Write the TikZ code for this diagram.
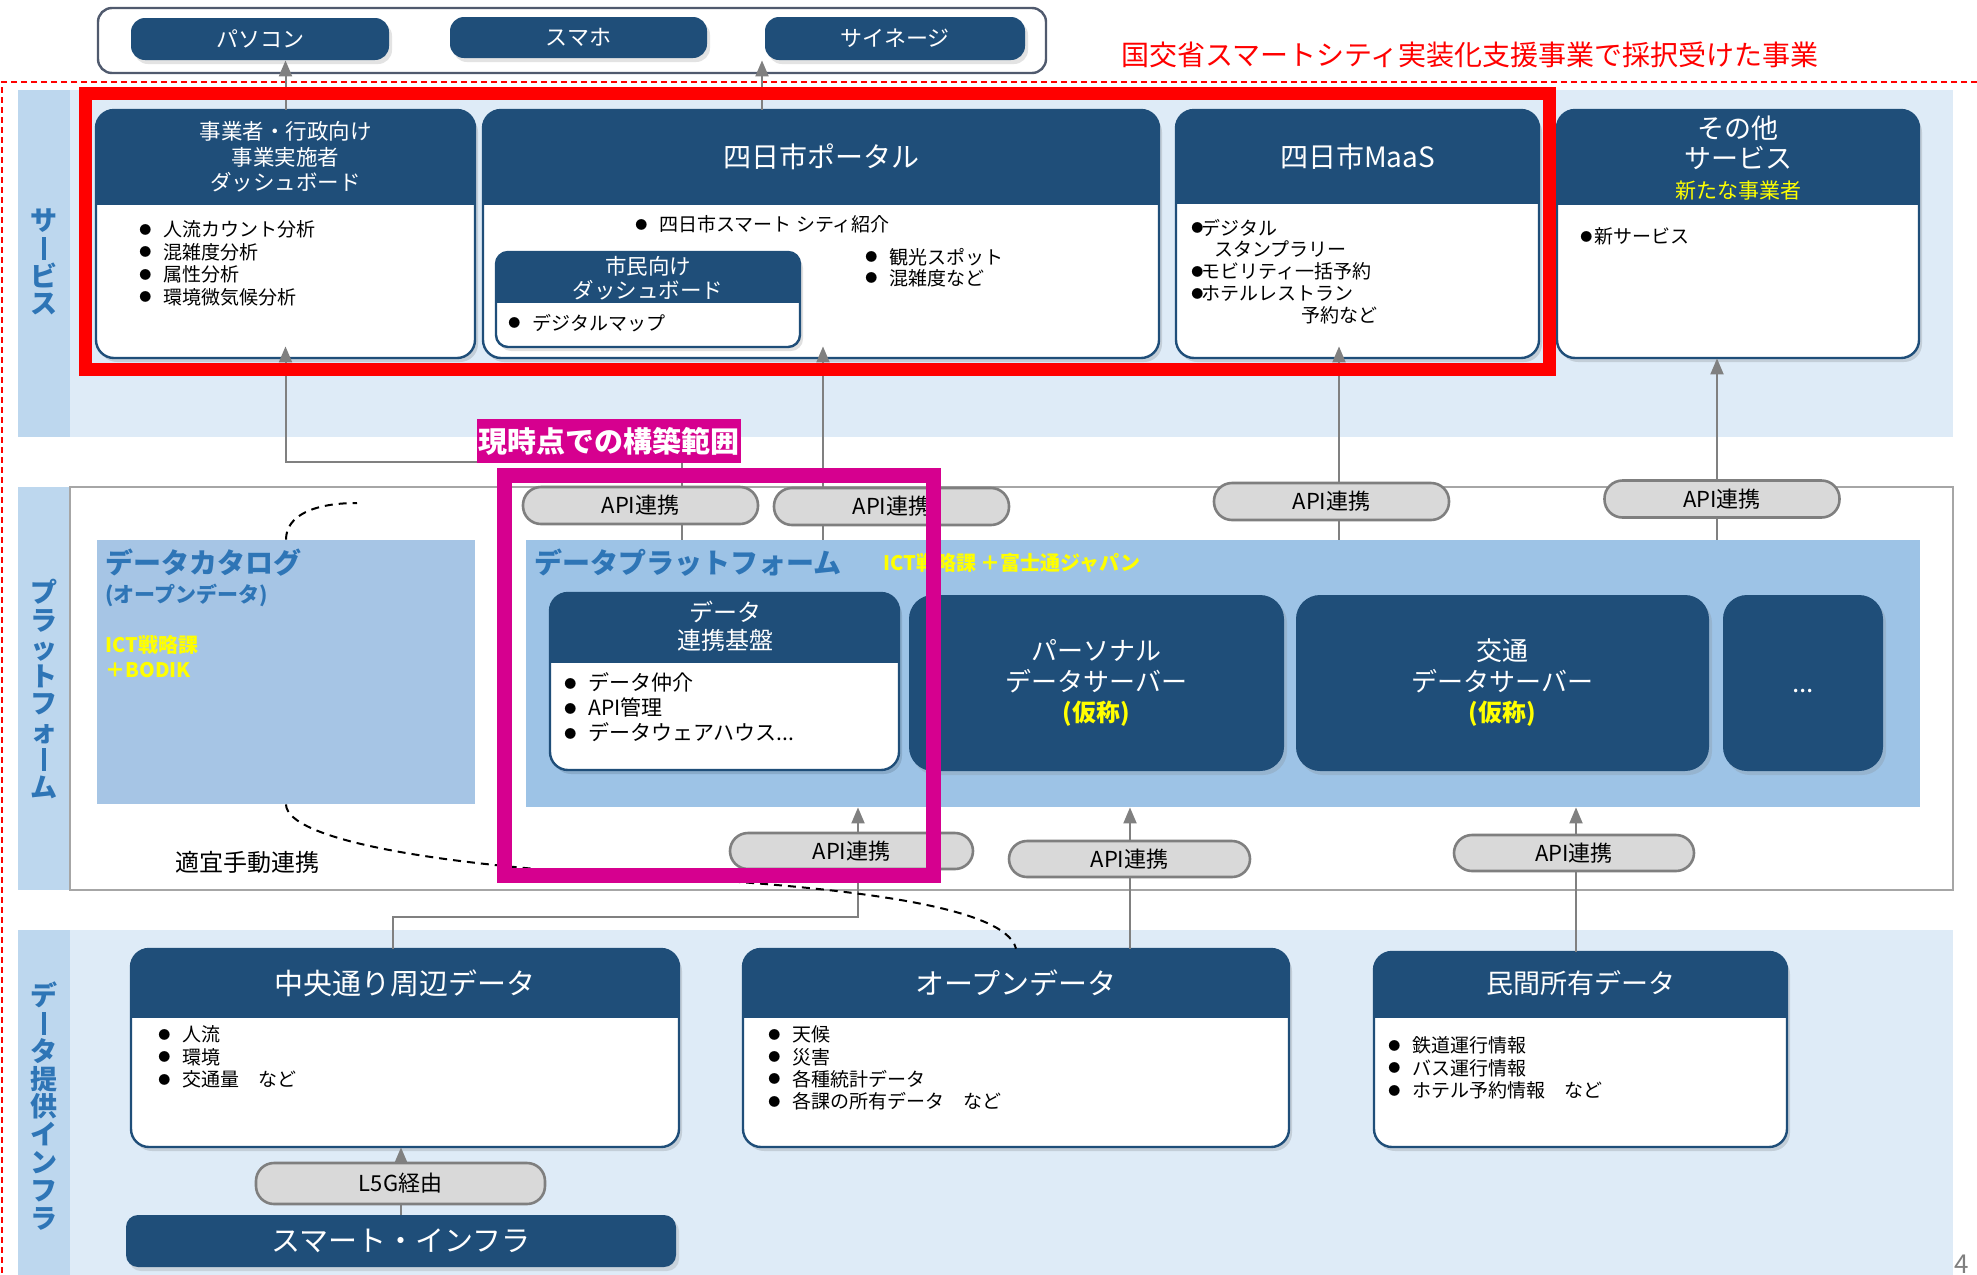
\documentclass[tikz,border=0pt]{standalone}
\usepackage{fontspec}
\setmainfont{Noto Sans CJK JP}
\usepackage{graphicx}
\usetikzlibrary{fit,arrows.meta,shadows}
\definecolor{dkb}{HTML}{1F4E79}
\definecolor{bandbg}{HTML}{DEEBF7}
\definecolor{strip}{HTML}{BDD7EE}
\definecolor{catbg}{HTML}{A6C5E5}
\definecolor{dpbg}{HTML}{9DC3E6}
\definecolor{lblue}{HTML}{2E75B6}
\definecolor{pillbg}{HTML}{D9D9D9}
\definecolor{pillln}{HTML}{7F7F7F}
\definecolor{connc}{HTML}{808080}
\definecolor{mag}{HTML}{D6008F}
\definecolor{yel}{HTML}{FFFF00}
\definecolor{frgray}{HTML}{A6A6A6}
\definecolor{devln}{HTML}{505A6E}
\newcommand\fsz[2]{\fontsize{#1}{#2}\selectfont}
\newcommand\bl{\makebox[12pt][l]{\raisebox{1.2pt}{\fsz{6pt}{6pt}●}}}
\newcommand\bls{\makebox[7pt][l]{\raisebox{1.2pt}{\fsz{6pt}{6pt}●}}}
\newcommand\bld{\makebox[5pt][l]{\raisebox{1.2pt}{\fsz{6pt}{6pt}●}}}
\newcommand\vbr{\rule[-0.05em]{0.12em}{0.85em}}
% header box: [radius] name x1 y1 x2 y2 yheader
\newcommand\hdrbox[7][9pt]{%
  \fill[black,opacity=0.12,rounded corners=#1,xshift=1.5pt,yshift=-2pt] (#3,#4) rectangle (#5,#6);
  \fill[white,rounded corners=#1] (#3,#4) rectangle (#5,#6);
  \begin{scope}
    \clip[rounded corners=#1] (#3,#4) rectangle (#5,#6);
    \fill[dkb] (#3,#4) rectangle (#5,#7);
  \end{scope}
  \draw[dkb,line width=1.2pt,rounded corners=#1] (#3,#4) rectangle (#5,#6);
  \node[fit={(#3,#4)(#5,#6)},inner sep=0pt] (#2) {};
}
\begin{document}
\begin{tikzpicture}[x=0.5pt,y=-0.5pt,
  conn/.style={draw=connc,line width=1pt},
  arw/.style={conn,-{Triangle[length=8pt,width=6.5pt]}},
  pill/.style={draw=pillln,line width=1.3pt,fill=pillbg,rounded corners=9pt,inner sep=0pt,minimum width=117.5pt,minimum height=18.5pt,font=\fsz{11pt}{13pt}},
  dbox/.style={fill=dkb,rounded corners=12pt,inner sep=0pt,text=white,align=center,drop shadow={opacity=0.22,shadow xshift=1.5pt,shadow yshift=-2pt}},
  htxt/.style={text=white,align=center,inner sep=0pt},
  lst/.style={anchor=north west,inner sep=0pt,align=left,font=\fsz{9.5pt}{11.2pt}},
  vlab/.style={text=lblue,align=center,inner sep=0pt,font=\bfseries\fsz{13.5pt}{13.9pt}},
  dsh/.style={draw=black,line width=1pt,dash pattern=on 4pt off 3pt},
]
\useasboundingbox (0,0) rectangle (1977,1275);
\fill[white] (0,0) rectangle (1977,1275);

% bands
\fill[bandbg] (70,90) rectangle (1953,437);
\fill[strip] (18,90) rectangle (70,437);
\fill[strip] (18,487) rectangle (70,890);
\draw[frgray,line width=1pt,fill=white] (70,487) rectangle (1953,890);
\fill[bandbg] (70,930) rectangle (1953,1275);
\fill[strip] (18,930) rectangle (70,1275);
\draw[red,line width=0.8pt,dash pattern=on 3pt off 2pt] (1977,82) -- (2,82) -- (2,1275);

% band labels
\node[vlab] (lsvc) at (44,262) {サ\\\vbr\\ビ\\ス};
\node[vlab] (lplt) at (44,689) {プ\\ラ\\ッ\\ト\\フ\\ォ\\\vbr\\ム};
\node[vlab] (linf) at (44,1106) {デ\\\vbr\\タ\\提\\供\\イ\\ン\\フ\\ラ};

% devices
\node[fit={(98,8)(1046,73)},inner sep=0pt,draw=devln,line width=1.2pt,fill=white,rounded corners=7pt] (devs) {};
\node[dbox,rounded corners=7pt,minimum width=129pt,minimum height=21pt,font=\fsz{11pt}{13pt}] (pc) at (260,39) {パソコン};
\node[dbox,rounded corners=7pt,minimum width=128.5pt,minimum height=20.5pt,font=\fsz{11pt}{13pt}] (sp) at (578.5,37.5) {スマホ};
\node[dbox,rounded corners=7pt,minimum width=130pt,minimum height=21.5pt,font=\fsz{11pt}{13pt}] (sig) at (895,38.5) {サイネージ};

% service boxes
\hdrbox{svc1}{96}{110}{475}{358}{205}
\hdrbox{portal}{483}{110}{1159}{358}{205}
\hdrbox[6pt]{cdash}{496}{252}{800}{347}{303}
\hdrbox{maas}{1176}{110}{1539}{358}{204}
\hdrbox{other}{1557}{110}{1919}{358}{205}
\node[htxt,font=\fsz{10.75pt}{12.75pt}] (t1) at (285.5,157) {事業者・行政向け\\事業実施者\\ダッシュボード};
\node[htxt,font=\fsz{14pt}{16pt}] (t2) at (821,157) {四日市ポータル};
\node[htxt,font=\fsz{10.75pt}{12pt}] (t3) at (648,278) {市民向け\\ダッシュボード};
\node[htxt,font=\fsz{14pt}{16pt}] (t4) at (1357.5,157) {四日市MaaS};
\node[htxt,font=\fsz{13.5pt}{15pt}] (t5) at (1738,158) {その他\\サービス\\{\fsz{10.5pt}{15pt}\color{yel}新たな事業者}};
\node[lst] (l1) at (139,220.5) {\bl 人流カウント分析\\\bl 混雑度分析\\\bl 属性分析\\\bl 環境微気候分析};
\node[lst] (l2) at (635,215.5) {\bl 四日市スマート シティ紹介};
\node[lst,font=\fsz{9.5pt}{10.5pt}] (l3) at (865,247.5) {\bl 観光スポット\\\bl 混雑度など};
\node[lst] (l4) at (508,313.5) {\bl デジタルマップ};
\node[lst,font=\fsz{9.5pt}{10.9pt}] (l5) at (1191,218.5) {\bld デジタル\\\hspace*{11.5pt}スタンプラリー\\\bld モビリティ一括予約\\\bld ホテルレストラン\\\hspace*{55pt}予約など};
\node[lst] (l6) at (1580,227.5) {\bls 新サービス};

% platform
\node[fit={(97,540)(475,804)},inner sep=0pt,fill=catbg] (cat) {};
\node[fit={(526,540)(1920,807)},inner sep=0pt,fill=dpbg] (dp) {};
\node[anchor=west,inner sep=0pt,text=lblue,font=\bfseries\fsz{14pt}{16pt}] (catt) at (105,563) {データカタログ};
\node[anchor=west,inner sep=0pt,text=lblue,font=\bfseries\fsz{10.5pt}{12pt}] (cats) at (105,595) {(オープンデータ)};
\node[anchor=west,inner sep=0pt,text=yel,font=\bfseries\fsz{10pt}{12pt}] (caty1) at (105,645) {ICT戦略課};
\node[anchor=west,inner sep=0pt,text=yel,font=\bfseries\fsz{10pt}{12pt}] (caty2) at (105,670) {＋BODIK};
\node[anchor=west,inner sep=0pt,text=lblue,font=\bfseries\fsz{14pt}{16pt}] (dpt) at (534,563) {データプラットフォーム};
\node[anchor=west,inner sep=0pt,text=yel,font=\bfseries\fsz{10pt}{12pt}] (dpy) at (883,563) {ICT戦略課 ＋富士通ジャパン};
\hdrbox{dl}{550}{593}{899}{770}{663}
\node[htxt,font=\fsz{12pt}{14pt}] (dlt) at (725,626) {データ\\連携基盤};
\node[lst,font=\fsz{10.5pt}{12.5pt}] (dll) at (564,672.5) {\bl データ仲介\\\bl API管理\\\bl データウェアハウス...};
\node[dbox,minimum width=187.5pt,minimum height=88pt,font=\fsz{13pt}{15.25pt}] (ps) at (1096.5,683) {パーソナル\\データサーバー\\{\bfseries\fsz{12pt}{15.25pt}\color{yel}(仮称)}};
\node[dbox,minimum width=206.5pt,minimum height=88pt,font=\fsz{13pt}{15.25pt}] (tr) at (1502.5,683) {交通\\データサーバー\\{\bfseries\fsz{12pt}{15.25pt}\color{yel}(仮称)}};
\node[dbox,minimum width=80pt,minimum height=88pt] (etc) at (1803,683) {};
\node[text=white,inner sep=0pt,font=\fsz{13pt}{15pt}] (etct) at (1803,691) {...};
\node[inner sep=0pt,font=\fsz{12pt}{14pt}] (manual) at (247,862) {適宜手動連携};

% infra
\hdrbox{chuo}{131}{949}{679}{1147}{1018}
\hdrbox{open}{743}{949}{1289}{1147}{1018}
\hdrbox{mk}{1374}{952}{1787}{1147}{1018}
\node[htxt,font=\fsz{14.5pt}{16pt}] (chuot) at (405,983) {中央通り周辺データ};
\node[htxt,font=\fsz{14.5pt}{16pt}] (opent) at (1016,983) {オープンデータ};
\node[htxt,font=\fsz{13.5pt}{16pt}] (mkt) at (1580.5,983) {民間所有データ};
\node[lst,font=\fsz{9.5pt}{11.25pt}] (chuol) at (158,1025.5) {\bl 人流\\\bl 環境\\\bl 交通量　など};
\node[lst,font=\fsz{9.5pt}{11.15pt}] (openl) at (768,1025.5) {\bl 天候\\\bl 災害\\\bl 各種統計データ\\\bl 各課の所有データ　など};
\node[lst,font=\fsz{9.5pt}{11.25pt}] (mkl) at (1388,1036.5) {\bl 鉄道運行情報\\\bl バス運行情報\\\bl ホテル予約情報　など};
\node[dbox,rounded corners=6pt,minimum width=275pt,minimum height=26pt,font=\fsz{14.5pt}{16pt}] (sinf) at (401,1241) {スマート・インフラ};

% connectors
\draw[arw] (svc1.north) -- (svc1.north |- pc.south);
\coordinate (xa) at (762,0);
\draw[arw] (xa |- portal.north) -- (xa |- sig.south);
\coordinate (j1) at (682,462);
\draw[arw,shorten >=-6pt] (j1 |- dp.north) -- (j1) -| (svc1.south);
\coordinate (xb) at (823,0);
\draw[arw,shorten >=-6pt] (xb |- dp.north) -- (xb |- portal.south);
\coordinate (xc) at (1339,0);
\draw[arw,shorten >=-6pt] (xc |- dp.north) -- (xc |- maas.south);
\coordinate (xd) at (1717,0);
\draw[arw] (xd |- dp.north) -- (xd |- other.south);
\coordinate (j2) at (858,917);
\coordinate (xe) at (393,0);
\draw[arw] (xe |- chuo.north) |- (j2) -- (j2 |- dp.south);
\coordinate (xf) at (1130,0);
\draw[arw] (xf |- open.north) -- (xf |- dp.south);
\coordinate (xg) at (1576,0);
\draw[arw] (xg |- mk.north) -- (xg |- dp.south);
\draw[arw] (sinf.north) -- (sinf.north |- chuo.south);

% pills
\node[pill] (p1) at (640.5,505.5) {API連携};
\node[pill] (p2) at (891.5,506.5) {API連携};
\node[pill] (p3) at (1331.5,501.5) {API連携};
\node[pill] (p4) at (1722,499) {API連携};
\node[pill,minimum width=121.5pt,minimum height=18pt] (p5) at (851.5,851) {API連携};
\node[pill,minimum width=120.5pt,minimum height=18pt] (p6) at (1129.5,859) {API連携};
\node[pill,minimum width=120pt,minimum height=18pt] (p7) at (1574,853) {API連携};
\node[pill,minimum width=144.5pt,minimum height=20.5pt] (p8) at (400.5,1183.5) {L5G経由};

% dashed manual links
\coordinate (dc1) at (357,503);
\draw[dsh] (cat.north) .. controls (286,515) and (315,503) .. (dc1);
\coordinate (dm) at (640,876);
\draw[dsh] (cat.south) .. controls (287,840) and (440,866) .. (dm) .. controls (840,886) and (1005,905) .. (open.north);

% frames and titles
\draw[red,line width=6.5pt] (85,93) rectangle (1549,369);
\draw[mag,line width=7.5pt] (504,475) rectangle (933,875);
\node[fill=mag,text=white,inner sep=0pt,font=\bfseries\fsz{14.5pt}{16pt},minimum width=132pt,minimum height=22pt] (scopelbl) at (609,441) {現時点での構築範囲};
\node[text=red,inner sep=0pt,font=\fsz{14pt}{16pt}] (ttl) at (1470,55) {国交省スマートシティ実装化支援事業で採択受けた事業};
\node[text=gray,inner sep=0pt,font=\fsz{13pt}{15pt}] (pg) at (1962,1264) {4};
\end{tikzpicture}
\end{document}
